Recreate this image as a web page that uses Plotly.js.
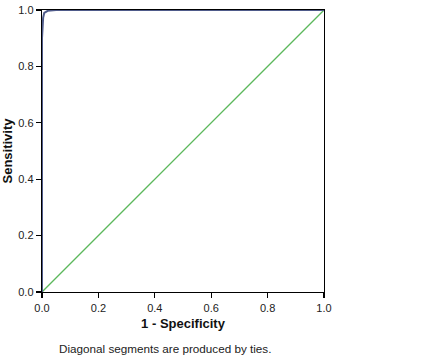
<!DOCTYPE html>
<html>
<head>
<meta charset="utf-8">
<script src="https://cdn.plot.ly/plotly-3.0.1.min.js"></script>
<style>html,body{margin:0;padding:0;background:#fff;}</style>
</head>
<body>
<div id="chart" style="width:430px;height:364px;"></div>
<script>
const rocX = [0, 0.0, 0.004, 0.008, 0.02, 0.05, 1.0];
const rocY = [0, 0.9, 0.972, 0.99, 0.997, 1.0, 1.0];
const refX = [0, 1];
const refY = [0, 1];
const tickVals = [0, 0.2, 0.4, 0.6, 0.8, 1.0];
const tickText = ["0.0", "0.2", "0.4", "0.6", "0.8", "1.0"];

const data = [
  {x: refX, y: refY, mode: 'lines', line: {color: '#5cb85c', width: 1.3}, hoverinfo: 'skip', showlegend: false},
  {x: rocX, y: rocY, mode: 'lines', line: {color: '#4f5b8a', width: 2}, showlegend: false}
];
const axisCommon = {
  range: [0, 1], tickvals: tickVals, ticktext: tickText,
  showgrid: false, zeroline: false, showline: true, linecolor: '#000', linewidth: 1.3,
  mirror: true, ticks: 'outside', ticklen: 5, tickcolor: '#000', tickwidth: 1.3,
  tickfont: {family: 'Arial, Liberation Sans, sans-serif', size: 11, color: '#222'}
};
const layout = {
  width: 430, height: 364,
  margin: {l: 42, r: 106, t: 10, b: 72},
  paper_bgcolor: '#fff', plot_bgcolor: '#fff',
  xaxis: Object.assign({}, axisCommon, {
    title: {text: '<b>1 - Specificity</b>', font: {family: 'Arial, Liberation Sans, sans-serif', size: 13, color: '#111'}, standoff: 6}
  }),
  yaxis: Object.assign({}, axisCommon, {
    title: {text: '<b>Sensitivity</b>', font: {family: 'Arial, Liberation Sans, sans-serif', size: 13, color: '#111'}, standoff: 4}
  }),
  annotations: [{
    text: 'Diagonal segments are produced by ties.', xref: 'paper', yref: 'paper',
    x: 0.053, y: -0.199, xanchor: 'left', yanchor: 'middle', showarrow: false,
    font: {family: 'Arial, Liberation Sans, sans-serif', size: 11.7, color: '#222'}
  }]
};
Plotly.newPlot('chart', data, layout, {displayModeBar: false, staticPlot: true});
</script>
</body>
</html>
